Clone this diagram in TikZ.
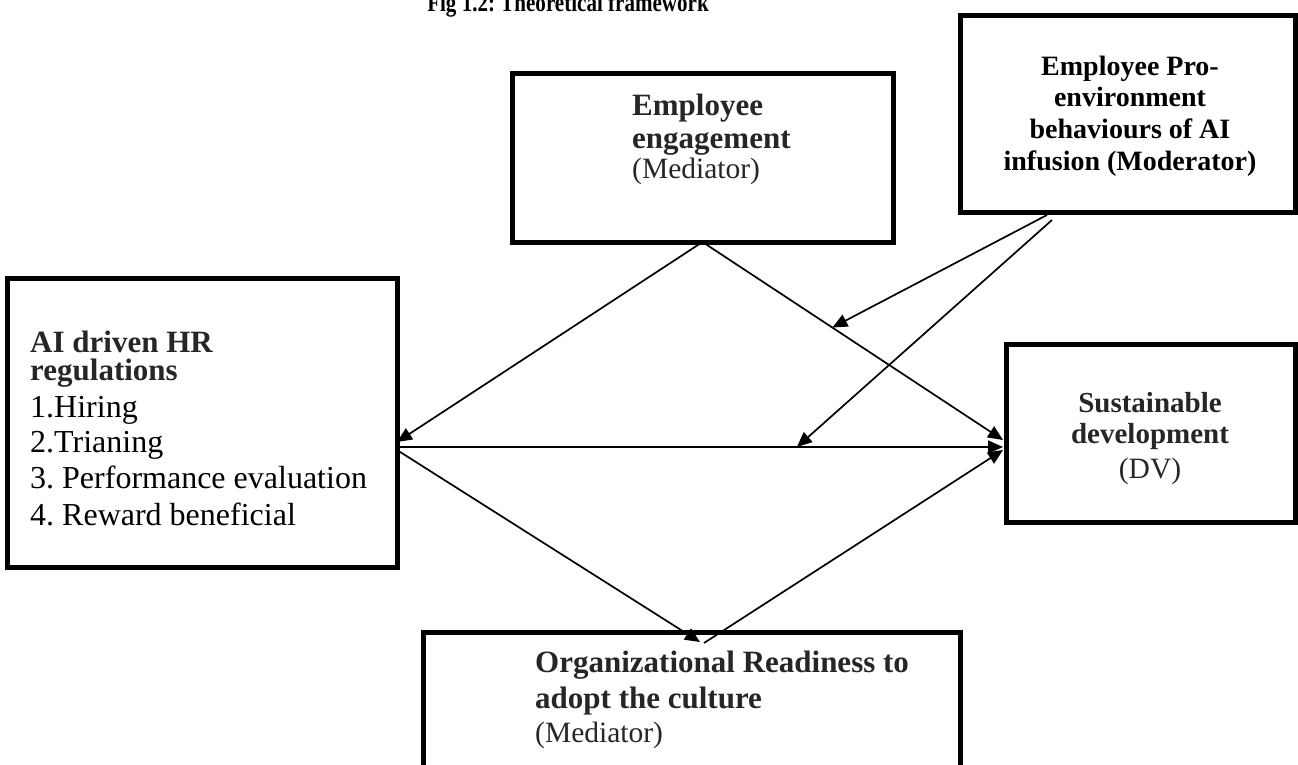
\documentclass[tikz,border=0pt]{standalone}
\usepackage{fontspec}
\setmainfont{Liberation Serif}
\usetikzlibrary{arrows.meta,calc}
\definecolor{ink}{HTML}{262626}
\frenchspacing
\begin{document}
\begin{tikzpicture}[x=1pt,y=-1pt,
  box/.style={draw=black,line width=5pt,line join=miter,rectangle,inner sep=0pt,outer sep=0pt,anchor=north west},
  link/.style={draw=black,line width=1.7pt,-{Triangle[length=15pt,width=13pt]}},
  bt/.style={text=ink,inner sep=0pt,font=\fontsize{31}{31}\selectfont\bfseries},
  nt/.style={text=ink,inner sep=0pt,font=\fontsize{29.5}{30}\selectfont},
  lt/.style={text=black,inner sep=0pt,anchor=base west,font=\fontsize{32}{32}\selectfont},
  mt/.style={text=black,inner sep=0pt,anchor=base,font=\fontsize{28}{28}\selectfont\bfseries},
  st/.style={text=ink,inner sep=0pt,anchor=base,font=\fontsize{29}{29}\selectfont\bfseries},
]
\useasboundingbox (0,0) rectangle (1298,764);
\clip (0,0) rectangle (1298,764);

% caption, running past the top edge
\node[inner sep=0pt,anchor=base,xscale=0.81,font=\fontsize{26}{26}\selectfont\bfseries] (title) at (568,11) {Fig 1.2: Theoretical framework};

% boxes
\node[box,minimum width=381pt,minimum height=169pt] (ee)  at (512,73)  {};
\node[box,minimum width=335pt,minimum height=197pt] (mod) at (960,15)  {};
\node[box,minimum width=390pt,minimum height=289pt] (ai)  at (7,278)   {};
\node[box,minimum width=289pt,minimum height=178pt] (sd)  at (1006,344) {};
\node[box,minimum width=537pt,minimum height=180pt] (org) at (423,632) {};

% texts
\node[bt,anchor=base west] (ee1) at (632,115) {Employee};
\node[bt,anchor=base west] (ee2) at (632,148) {engagement};
\node[nt,anchor=base west] (ee3) at (632,178) {(Mediator)};

\node[mt] (mod1) at (1130,75)  {Employee Pro-};
\node[mt] (mod2) at (1130,106) {environment};
\node[mt] (mod3) at (1130,138) {behaviours of AI};
\node[mt] (mod4) at (1130,170) {infusion (Moderator)};

\node[bt,anchor=base west] (ai1) at (30,352) {AI driven HR};
\node[bt,anchor=base west] (ai2) at (30,380) {regulations};
\node[lt] (ai3) at (30,417) {1.Hiring};
\node[lt] (ai4) at (30,452) {2.Trianing};
\node[lt] (ai5) at (30,488) {3. Performance evaluation};
\node[lt] (ai6) at (30,525) {4. Reward beneficial};

\node[st] (sd1) at (1150,412) {Sustainable};
\node[st] (sd2) at (1150,443) {development};
\node[nt,anchor=base] (sd3) at (1150,478) {(DV)};

\node[bt,anchor=base west] (org1) at (535,672) {Organizational Readiness to};
\node[bt,anchor=base west] (org2) at (535,708) {adopt the culture};
\node[nt,anchor=base west] (org3) at (535,742) {(Mediator)};

% connector end points on the box borders
\coordinate (eeB)  at (ee.south);
\coordinate (aiR1) at (ai.east |- 0,442);
\coordinate (aiR)  at (ai.east |- 0,447);
\coordinate (aiR2) at (ai.east |- 0,450);
\coordinate (sdL1) at ($(sd.west |- 0,440)+(-3,0)$);
\coordinate (sdL)  at ($(sd.west |- 0,447)+(-3,0)$);
\coordinate (sdL2) at ($(sd.west |- 0,450)+(-3,0)$);
\coordinate (orT1) at ($(org.north west)+(277,10)$);
\coordinate (orT2) at ($(org.north west)+(281,11)$);
\coordinate (modB1) at ($(mod.south west)+(87,3)$);
\coordinate (modB2) at ($(mod.south west)+(92,8)$);
\coordinate (m1) at ($(eeB)!0.432!(sdL1)$);
\coordinate (m2) at ($(aiR)!0.66!(sdL)$);

% paths
\draw[link] (eeB) -- (aiR1);
\draw[link] (eeB) -- (sdL1);
\draw[link] (aiR) -- (sdL);
\draw[link] (aiR2) -- (orT1);
\draw[link] (orT2) -- (sdL2);
\draw[link] (modB1) -- (m1);
\draw[link] (modB2) -- (m2);
\end{tikzpicture}
\end{document}
